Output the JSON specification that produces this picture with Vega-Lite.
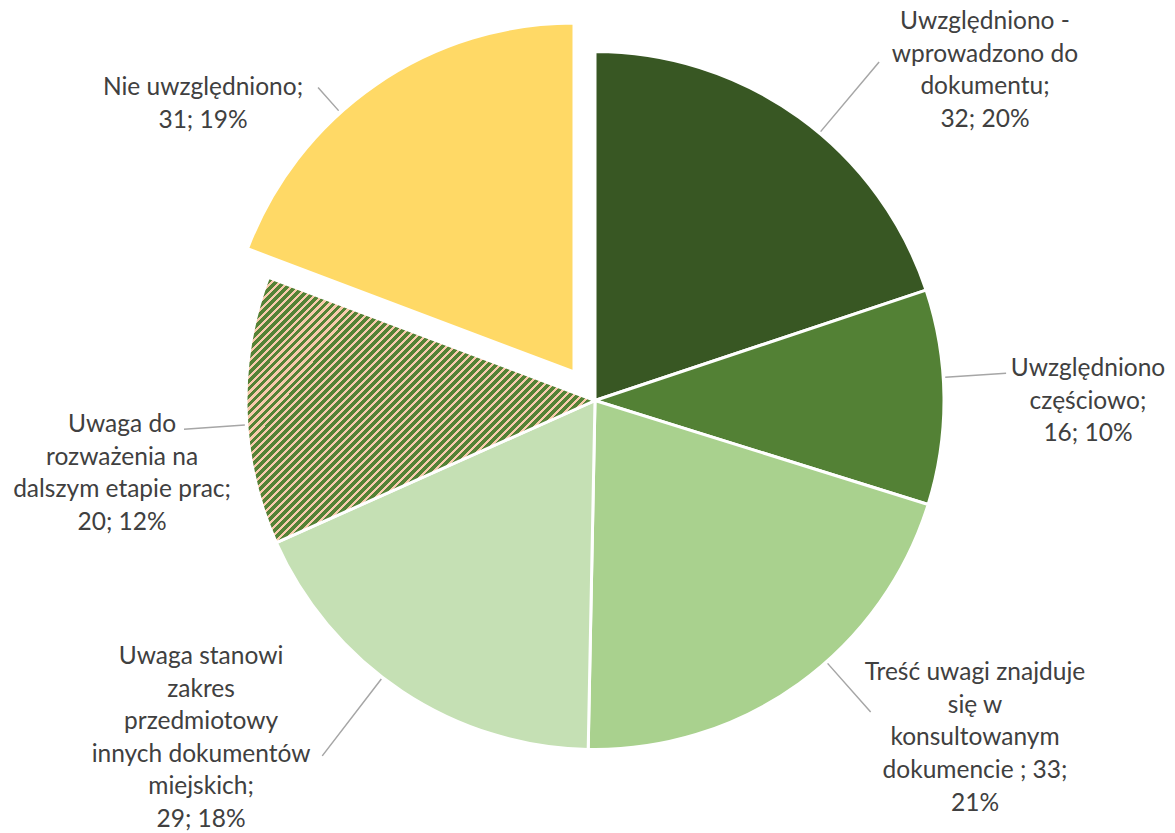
{
  "$schema": "https://vega.github.io/schema/vega-lite/v6.json",
  "width": 1160,
  "height": 801,
  "autosize": {"type": "none"},
  "padding": {"left": 15, "top": 0, "right": 0, "bottom": 32},
  "background": "white",
  "config": {"view": {"stroke": null}},
  "data": {"values": [
    {"order": 1, "category": "Uwzględniono - wprowadzono do dokumentu", "value": 32, "label": "Uwzględniono -\nwprowadzono do\ndokumentu;\n32; 20%"},
    {"order": 2, "category": "Uwzględniono częściowo", "value": 16, "label": "Uwzględniono\nczęściowo;\n16; 10%"},
    {"order": 3, "category": "Treść uwagi znajduje się w konsultowanym dokumencie", "value": 33, "label": "Treść uwagi znajduje\nsię w\nkonsultowanym\ndokumencie ; 33;\n21%"},
    {"order": 4, "category": "Uwaga stanowi zakres przedmiotowy innych dokumentów miejskich", "value": 29, "label": "Uwaga stanowi\nzakres\nprzedmiotowy\ninnych dokumentów\nmiejskich;\n29; 18%"},
    {"order": 5, "category": "Uwaga do rozważenia na dalszym etapie prac", "value": 20, "label": "Uwaga do\nrozważenia na\ndalszym etapie prac;\n20; 12%"},
    {"order": 6, "category": "Nie uwzględniono", "value": 31, "label": "Nie uwzględniono;\n31; 19%"}
  ]},
  "transform": [
    {"stack": "value", "groupby": [], "offset": "normalize", "sort": [{"field": "order", "order": "ascending"}], "as": ["v0", "v1"]}
  ],
  "layer": [
    {
      "transform": [{"filter": "datum.order <= 4"}],
      "mark": {"type": "arc", "radius": 349, "stroke": "white", "strokeWidth": 3},
      "encoding": {
        "theta": {"field": "v0", "type": "quantitative", "scale": {"domain": [0, 1]}},
        "theta2": {"field": "v1"},
        "fill": {"field": "category", "type": "nominal", "legend": null,
          "scale": {"domain": ["Uwzględniono - wprowadzono do dokumentu", "Uwzględniono częściowo", "Treść uwagi znajduje się w konsultowanym dokumencie", "Uwaga stanowi zakres przedmiotowy innych dokumentów miejskich"],
                    "range": ["#385723", "#538135", "#A9D18E", "#C5E0B4"]}}
      }
    },
    {
      "transform": [{"filter": "datum.order == 5"}],
      "mark": {"type": "arc", "radius": 349, "stroke": "white", "strokeWidth": 3,
        "fill": {"gradient": "linear", "x1": 0, "y1": 0, "x2": 1.1155, "y2": 0.848, "stops": [
          {"offset":0,"color":"#548235"},
          {"offset":0.008,"color":"#548235"},{"offset":0.008,"color":"#F8CBAD"},{"offset":0.013,"color":"#F8CBAD"},{"offset":0.013,"color":"#548235"},
          {"offset":0.021,"color":"#548235"},{"offset":0.021,"color":"#F8CBAD"},{"offset":0.026,"color":"#F8CBAD"},{"offset":0.026,"color":"#548235"},
          {"offset":0.034,"color":"#548235"},{"offset":0.034,"color":"#F8CBAD"},{"offset":0.039,"color":"#F8CBAD"},{"offset":0.039,"color":"#548235"},
          {"offset":0.047,"color":"#548235"},{"offset":0.047,"color":"#F8CBAD"},{"offset":0.052,"color":"#F8CBAD"},{"offset":0.052,"color":"#548235"},
          {"offset":0.060,"color":"#548235"},{"offset":0.060,"color":"#F8CBAD"},{"offset":0.065,"color":"#F8CBAD"},{"offset":0.065,"color":"#548235"},
          {"offset":0.073,"color":"#548235"},{"offset":0.073,"color":"#F8CBAD"},{"offset":0.078,"color":"#F8CBAD"},{"offset":0.078,"color":"#548235"},
          {"offset":0.086,"color":"#548235"},{"offset":0.086,"color":"#F8CBAD"},{"offset":0.091,"color":"#F8CBAD"},{"offset":0.091,"color":"#548235"},
          {"offset":0.099,"color":"#548235"},{"offset":0.099,"color":"#F8CBAD"},{"offset":0.104,"color":"#F8CBAD"},{"offset":0.104,"color":"#548235"},
          {"offset":0.112,"color":"#548235"},{"offset":0.112,"color":"#F8CBAD"},{"offset":0.117,"color":"#F8CBAD"},{"offset":0.117,"color":"#548235"},
          {"offset":0.125,"color":"#548235"},{"offset":0.125,"color":"#F8CBAD"},{"offset":0.130,"color":"#F8CBAD"},{"offset":0.130,"color":"#548235"},
          {"offset":0.138,"color":"#548235"},{"offset":0.138,"color":"#F8CBAD"},{"offset":0.143,"color":"#F8CBAD"},{"offset":0.143,"color":"#548235"},
          {"offset":0.151,"color":"#548235"},{"offset":0.151,"color":"#F8CBAD"},{"offset":0.156,"color":"#F8CBAD"},{"offset":0.156,"color":"#548235"},
          {"offset":0.164,"color":"#548235"},{"offset":0.164,"color":"#F8CBAD"},{"offset":0.169,"color":"#F8CBAD"},{"offset":0.169,"color":"#548235"},
          {"offset":0.177,"color":"#548235"},{"offset":0.177,"color":"#F8CBAD"},{"offset":0.182,"color":"#F8CBAD"},{"offset":0.182,"color":"#548235"},
          {"offset":0.190,"color":"#548235"},{"offset":0.190,"color":"#F8CBAD"},{"offset":0.195,"color":"#F8CBAD"},{"offset":0.195,"color":"#548235"},
          {"offset":0.203,"color":"#548235"},{"offset":0.203,"color":"#F8CBAD"},{"offset":0.208,"color":"#F8CBAD"},{"offset":0.208,"color":"#548235"},
          {"offset":0.216,"color":"#548235"},{"offset":0.216,"color":"#F8CBAD"},{"offset":0.221,"color":"#F8CBAD"},{"offset":0.221,"color":"#548235"},
          {"offset":0.229,"color":"#548235"},{"offset":0.229,"color":"#F8CBAD"},{"offset":0.234,"color":"#F8CBAD"},{"offset":0.234,"color":"#548235"},
          {"offset":0.242,"color":"#548235"},{"offset":0.242,"color":"#F8CBAD"},{"offset":0.247,"color":"#F8CBAD"},{"offset":0.247,"color":"#548235"},
          {"offset":0.255,"color":"#548235"},{"offset":0.255,"color":"#F8CBAD"},{"offset":0.260,"color":"#F8CBAD"},{"offset":0.260,"color":"#548235"},
          {"offset":0.268,"color":"#548235"},{"offset":0.268,"color":"#F8CBAD"},{"offset":0.273,"color":"#F8CBAD"},{"offset":0.273,"color":"#548235"},
          {"offset":0.281,"color":"#548235"},{"offset":0.281,"color":"#F8CBAD"},{"offset":0.286,"color":"#F8CBAD"},{"offset":0.286,"color":"#548235"},
          {"offset":0.294,"color":"#548235"},{"offset":0.294,"color":"#F8CBAD"},{"offset":0.299,"color":"#F8CBAD"},{"offset":0.299,"color":"#548235"},
          {"offset":0.307,"color":"#548235"},{"offset":0.307,"color":"#F8CBAD"},{"offset":0.312,"color":"#F8CBAD"},{"offset":0.312,"color":"#548235"},
          {"offset":0.320,"color":"#548235"},{"offset":0.320,"color":"#F8CBAD"},{"offset":0.325,"color":"#F8CBAD"},{"offset":0.325,"color":"#548235"},
          {"offset":0.333,"color":"#548235"},{"offset":0.333,"color":"#F8CBAD"},{"offset":0.338,"color":"#F8CBAD"},{"offset":0.338,"color":"#548235"},
          {"offset":0.346,"color":"#548235"},{"offset":0.346,"color":"#F8CBAD"},{"offset":0.351,"color":"#F8CBAD"},{"offset":0.351,"color":"#548235"},
          {"offset":0.359,"color":"#548235"},{"offset":0.359,"color":"#F8CBAD"},{"offset":0.364,"color":"#F8CBAD"},{"offset":0.364,"color":"#548235"},
          {"offset":0.372,"color":"#548235"},{"offset":0.372,"color":"#F8CBAD"},{"offset":0.377,"color":"#F8CBAD"},{"offset":0.377,"color":"#548235"},
          {"offset":0.385,"color":"#548235"},{"offset":0.385,"color":"#F8CBAD"},{"offset":0.390,"color":"#F8CBAD"},{"offset":0.390,"color":"#548235"},
          {"offset":0.398,"color":"#548235"},{"offset":0.398,"color":"#F8CBAD"},{"offset":0.403,"color":"#F8CBAD"},{"offset":0.403,"color":"#548235"},
          {"offset":0.411,"color":"#548235"},{"offset":0.411,"color":"#F8CBAD"},{"offset":0.416,"color":"#F8CBAD"},{"offset":0.416,"color":"#548235"},
          {"offset":0.424,"color":"#548235"},{"offset":0.424,"color":"#F8CBAD"},{"offset":0.429,"color":"#F8CBAD"},{"offset":0.429,"color":"#548235"},
          {"offset":0.437,"color":"#548235"},{"offset":0.437,"color":"#F8CBAD"},{"offset":0.442,"color":"#F8CBAD"},{"offset":0.442,"color":"#548235"},
          {"offset":0.450,"color":"#548235"},{"offset":0.450,"color":"#F8CBAD"},{"offset":0.455,"color":"#F8CBAD"},{"offset":0.455,"color":"#548235"},
          {"offset":0.463,"color":"#548235"},{"offset":0.463,"color":"#F8CBAD"},{"offset":0.468,"color":"#F8CBAD"},{"offset":0.468,"color":"#548235"},
          {"offset":0.476,"color":"#548235"},{"offset":0.476,"color":"#F8CBAD"},{"offset":0.481,"color":"#F8CBAD"},{"offset":0.481,"color":"#548235"},
          {"offset":0.489,"color":"#548235"},{"offset":0.489,"color":"#F8CBAD"},{"offset":0.494,"color":"#F8CBAD"},{"offset":0.494,"color":"#548235"},
          {"offset":0.502,"color":"#548235"},{"offset":0.502,"color":"#F8CBAD"},{"offset":0.507,"color":"#F8CBAD"},{"offset":0.507,"color":"#548235"},
          {"offset":0.515,"color":"#548235"},{"offset":0.515,"color":"#F8CBAD"},{"offset":0.520,"color":"#F8CBAD"},{"offset":0.520,"color":"#548235"},
          {"offset":0.528,"color":"#548235"},{"offset":0.528,"color":"#F8CBAD"},{"offset":0.533,"color":"#F8CBAD"},{"offset":0.533,"color":"#548235"},
          {"offset":0.541,"color":"#548235"},{"offset":0.541,"color":"#F8CBAD"},{"offset":0.546,"color":"#F8CBAD"},{"offset":0.546,"color":"#548235"},
          {"offset":0.554,"color":"#548235"},{"offset":0.554,"color":"#F8CBAD"},{"offset":0.559,"color":"#F8CBAD"},{"offset":0.559,"color":"#548235"},
          {"offset":0.567,"color":"#548235"},{"offset":0.567,"color":"#F8CBAD"},{"offset":0.572,"color":"#F8CBAD"},{"offset":0.572,"color":"#548235"},
          {"offset":0.580,"color":"#548235"},{"offset":0.580,"color":"#F8CBAD"},{"offset":0.585,"color":"#F8CBAD"},{"offset":0.585,"color":"#548235"},
          {"offset":0.593,"color":"#548235"},{"offset":0.593,"color":"#F8CBAD"},{"offset":0.598,"color":"#F8CBAD"},{"offset":0.598,"color":"#548235"},
          {"offset":0.606,"color":"#548235"},{"offset":0.606,"color":"#F8CBAD"},{"offset":0.611,"color":"#F8CBAD"},{"offset":0.611,"color":"#548235"},
          {"offset":0.619,"color":"#548235"},{"offset":0.619,"color":"#F8CBAD"},{"offset":0.624,"color":"#F8CBAD"},{"offset":0.624,"color":"#548235"},
          {"offset":0.632,"color":"#548235"},{"offset":0.632,"color":"#F8CBAD"},{"offset":0.637,"color":"#F8CBAD"},{"offset":0.637,"color":"#548235"},
          {"offset":0.645,"color":"#548235"},{"offset":0.645,"color":"#F8CBAD"},{"offset":0.650,"color":"#F8CBAD"},{"offset":0.650,"color":"#548235"},
          {"offset":0.658,"color":"#548235"},{"offset":0.658,"color":"#F8CBAD"},{"offset":0.663,"color":"#F8CBAD"},{"offset":0.663,"color":"#548235"},
          {"offset":0.671,"color":"#548235"},{"offset":0.671,"color":"#F8CBAD"},{"offset":0.676,"color":"#F8CBAD"},{"offset":0.676,"color":"#548235"},
          {"offset":0.684,"color":"#548235"},{"offset":0.684,"color":"#F8CBAD"},{"offset":0.689,"color":"#F8CBAD"},{"offset":0.689,"color":"#548235"},
          {"offset":0.697,"color":"#548235"},{"offset":0.697,"color":"#F8CBAD"},{"offset":0.702,"color":"#F8CBAD"},{"offset":0.702,"color":"#548235"},
          {"offset":0.710,"color":"#548235"},{"offset":0.710,"color":"#F8CBAD"},{"offset":0.715,"color":"#F8CBAD"},{"offset":0.715,"color":"#548235"},
          {"offset":0.723,"color":"#548235"},{"offset":0.723,"color":"#F8CBAD"},{"offset":0.728,"color":"#F8CBAD"},{"offset":0.728,"color":"#548235"},
          {"offset":0.736,"color":"#548235"},{"offset":0.736,"color":"#F8CBAD"},{"offset":0.741,"color":"#F8CBAD"},{"offset":0.741,"color":"#548235"},
          {"offset":0.749,"color":"#548235"},{"offset":0.749,"color":"#F8CBAD"},{"offset":0.754,"color":"#F8CBAD"},{"offset":0.754,"color":"#548235"},
          {"offset":0.762,"color":"#548235"},{"offset":0.762,"color":"#F8CBAD"},{"offset":0.767,"color":"#F8CBAD"},{"offset":0.767,"color":"#548235"},
          {"offset":0.775,"color":"#548235"},{"offset":0.775,"color":"#F8CBAD"},{"offset":0.780,"color":"#F8CBAD"},{"offset":0.780,"color":"#548235"},
          {"offset":0.788,"color":"#548235"},{"offset":0.788,"color":"#F8CBAD"},{"offset":0.793,"color":"#F8CBAD"},{"offset":0.793,"color":"#548235"},
          {"offset":0.801,"color":"#548235"},{"offset":0.801,"color":"#F8CBAD"},{"offset":0.806,"color":"#F8CBAD"},{"offset":0.806,"color":"#548235"},
          {"offset":0.814,"color":"#548235"},{"offset":0.814,"color":"#F8CBAD"},{"offset":0.819,"color":"#F8CBAD"},{"offset":0.819,"color":"#548235"},
          {"offset":0.827,"color":"#548235"},{"offset":0.827,"color":"#F8CBAD"},{"offset":0.832,"color":"#F8CBAD"},{"offset":0.832,"color":"#548235"},
          {"offset":0.840,"color":"#548235"},{"offset":0.840,"color":"#F8CBAD"},{"offset":0.845,"color":"#F8CBAD"},{"offset":0.845,"color":"#548235"},
          {"offset":0.853,"color":"#548235"},{"offset":0.853,"color":"#F8CBAD"},{"offset":0.858,"color":"#F8CBAD"},{"offset":0.858,"color":"#548235"},
          {"offset":0.866,"color":"#548235"},{"offset":0.866,"color":"#F8CBAD"},{"offset":0.871,"color":"#F8CBAD"},{"offset":0.871,"color":"#548235"},
          {"offset":0.879,"color":"#548235"},{"offset":0.879,"color":"#F8CBAD"},{"offset":0.884,"color":"#F8CBAD"},{"offset":0.884,"color":"#548235"},
          {"offset":0.892,"color":"#548235"},{"offset":0.892,"color":"#F8CBAD"},{"offset":0.897,"color":"#F8CBAD"},{"offset":0.897,"color":"#548235"},
          {"offset":0.905,"color":"#548235"},{"offset":0.905,"color":"#F8CBAD"},{"offset":0.910,"color":"#F8CBAD"},{"offset":0.910,"color":"#548235"},
          {"offset":0.918,"color":"#548235"},{"offset":0.918,"color":"#F8CBAD"},{"offset":0.923,"color":"#F8CBAD"},{"offset":0.923,"color":"#548235"},
          {"offset":0.931,"color":"#548235"},{"offset":0.931,"color":"#F8CBAD"},{"offset":0.936,"color":"#F8CBAD"},{"offset":0.936,"color":"#548235"},
          {"offset":0.944,"color":"#548235"},{"offset":0.944,"color":"#F8CBAD"},{"offset":0.949,"color":"#F8CBAD"},{"offset":0.949,"color":"#548235"},
          {"offset":0.957,"color":"#548235"},{"offset":0.957,"color":"#F8CBAD"},{"offset":0.962,"color":"#F8CBAD"},{"offset":0.962,"color":"#548235"},
          {"offset":0.970,"color":"#548235"},{"offset":0.970,"color":"#F8CBAD"},{"offset":0.975,"color":"#F8CBAD"},{"offset":0.975,"color":"#548235"},
          {"offset":0.983,"color":"#548235"},{"offset":0.983,"color":"#F8CBAD"},{"offset":0.988,"color":"#F8CBAD"},{"offset":0.988,"color":"#548235"},
          {"offset":0.996,"color":"#548235"},{"offset":0.996,"color":"#F8CBAD"},{"offset":1,"color":"#F8CBAD"}
        ]}},
      "encoding": {
        "theta": {"field": "v0", "type": "quantitative"},
        "theta2": {"field": "v1"}
      }
    },
    {
      "transform": [{"filter": "datum.order == 6"}],
      "mark": {"type": "arc", "radius": 349, "stroke": "white", "strokeWidth": 3, "fill": "#FFD966",
        "x": {"expr": "width / 2 - 21"}, "y": {"expr": "height / 2 - 28.5"}},
      "encoding": {
        "theta": {"field": "v0", "type": "quantitative"},
        "theta2": {"field": "v1"}
      }
    },
    {
      "transform": [{"filter": "datum.order == 1"}],
      "mark": {"type": "arc", "radius": 442, "radius2": 351, "thetaOffset": 0.6981, "theta2Offset": 0.6981, "stroke": "#A6A6A6", "strokeWidth": 1.5, "fillOpacity": 0},
      "encoding": {"theta": {"field": "v0", "type": "quantitative"}, "theta2": {"field": "v0"}}
    },
    {
      "transform": [{"filter": "datum.order == 2"}],
      "mark": {"type": "arc", "radius": 412, "radius2": 351, "thetaOffset": 0.2557, "theta2Offset": 0.2557, "stroke": "#A6A6A6", "strokeWidth": 1.5, "fillOpacity": 0},
      "encoding": {"theta": {"field": "v0", "type": "quantitative"}, "theta2": {"field": "v0"}}
    },
    {
      "transform": [{"filter": "datum.order == 3"}],
      "mark": {"type": "arc", "radius": 416, "radius2": 351, "thetaOffset": 0.5440, "theta2Offset": 0.5440, "stroke": "#A6A6A6", "strokeWidth": 1.5, "fillOpacity": 0},
      "encoding": {"theta": {"field": "v0", "type": "quantitative"}, "theta2": {"field": "v0"}}
    },
    {
      "transform": [{"filter": "datum.order == 4"}],
      "mark": {"type": "arc", "radius": 448, "radius2": 351, "thetaOffset": 0.6350, "theta2Offset": 0.6350, "stroke": "#A6A6A6", "strokeWidth": 1.5, "fillOpacity": 0},
      "encoding": {"theta": {"field": "v0", "type": "quantitative"}, "theta2": {"field": "v0"}}
    },
    {
      "transform": [{"filter": "datum.order == 5"}],
      "mark": {"type": "arc", "radius": 412, "radius2": 351, "thetaOffset": 0.3498, "theta2Offset": 0.3498, "stroke": "#A6A6A6", "strokeWidth": 1.5, "fillOpacity": 0},
      "encoding": {"theta": {"field": "v0", "type": "quantitative"}, "theta2": {"field": "v0"}}
    },
    {
      "transform": [{"filter": "datum.order == 6"}],
      "mark": {"type": "arc", "radius": 418, "radius2": 387, "thetaOffset": 0.4856, "theta2Offset": 0.4856, "stroke": "#A6A6A6", "strokeWidth": 1.5, "fillOpacity": 0},
      "encoding": {"theta": {"field": "v0", "type": "quantitative"}, "theta2": {"field": "v0"}}
    },
    {
      "transform": [{"filter": "datum.order == 1"}],
      "mark": {"type": "text", "radius": 543.5, "thetaOffset": 0.8002, "align": "center", "baseline": "middle", "lineBreak": "\n", "font": "Lato", "fontSize": 24.5, "lineHeight": 32.7, "color": "#404040"},
      "encoding": {"theta": {"field": "v0", "type": "quantitative"}, "text": {"field": "label"}}
    },
    {
      "transform": [{"filter": "datum.order == 2"}],
      "mark": {"type": "text", "radius": 494, "thetaOffset": 0.2581, "align": "center", "baseline": "middle", "lineBreak": "\n", "font": "Lato", "fontSize": 24.5, "lineHeight": 32.7, "color": "#404040"},
      "encoding": {"theta": {"field": "v0", "type": "quantitative"}, "text": {"field": "label"}}
    },
    {
      "transform": [{"filter": "datum.order == 3"}],
      "mark": {"type": "text", "radius": 467.6, "thetaOffset": 0.3196, "align": "center", "baseline": "middle", "lineBreak": "\n", "font": "Lato", "fontSize": 24.5, "lineHeight": 32.7, "color": "#404040"},
      "encoding": {"theta": {"field": "v0", "type": "quantitative"}, "text": {"field": "label"}}
    },
    {
      "transform": [{"filter": "datum.order == 4"}],
      "mark": {"type": "text", "radius": 470.1, "thetaOffset": 0.9741, "align": "center", "baseline": "middle", "lineBreak": "\n", "font": "Lato", "fontSize": 24.5, "lineHeight": 32.5, "color": "#404040"},
      "encoding": {"theta": {"field": "v0", "type": "quantitative"}, "text": {"field": "label"}}
    },
    {
      "transform": [{"filter": "datum.order == 5"}],
      "mark": {"type": "text", "radius": 473.6, "thetaOffset": 0.3678, "align": "center", "baseline": "middle", "lineBreak": "\n", "font": "Lato", "fontSize": 24.5, "lineHeight": 32.7, "color": "#404040"},
      "encoding": {"theta": {"field": "v0", "type": "quantitative"}, "text": {"field": "label"}}
    },
    {
      "transform": [{"filter": "datum.order == 6"}],
      "mark": {"type": "text", "radius": 501.3, "thetaOffset": 0.3120, "align": "center", "baseline": "middle", "lineBreak": "\n", "font": "Lato", "fontSize": 24.5, "lineHeight": 32.7, "color": "#404040"},
      "encoding": {"theta": {"field": "v0", "type": "quantitative"}, "text": {"field": "label"}}
    }
  ]
}
